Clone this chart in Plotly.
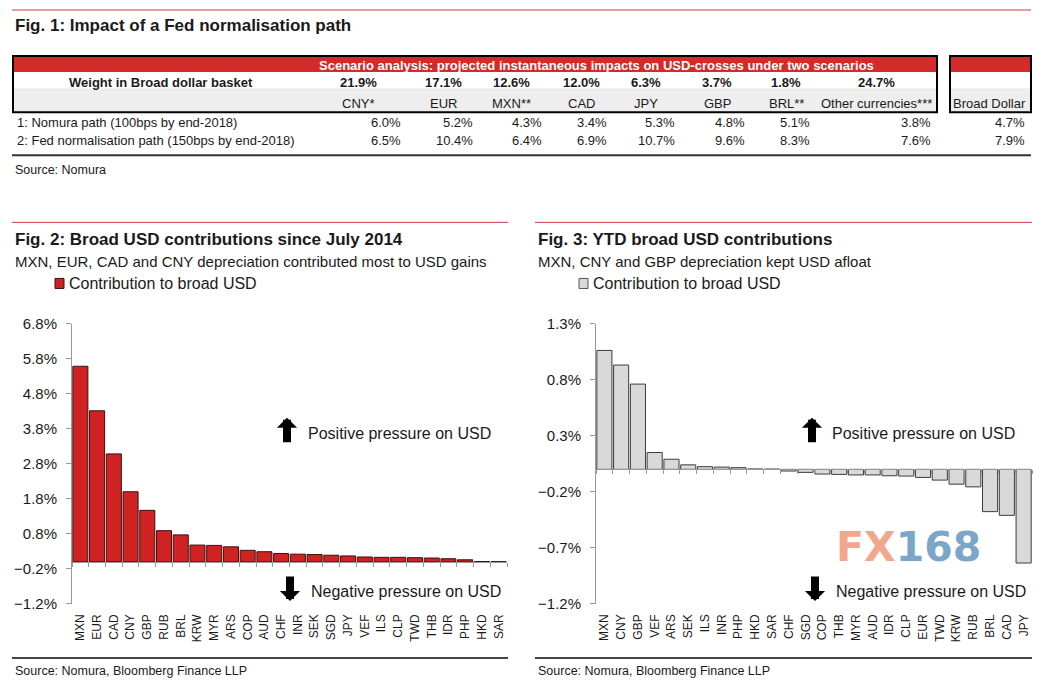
import plotly.graph_objects as go

W, H = 1043, 696
# the photographed page comes out slightly squeezed vertically; these undo it
SQUEEZE, SHIFT = 0.974, 9.0

# Fig. 1 table data
table_currencies = ["CNY*", "EUR", "MXN**", "CAD", "JPY", "GBP", "BRL**", "Other currencies***"]
basket_weights = [21.9, 17.1, 12.6, 12.0, 6.3, 3.7, 1.8, 24.7]
nomura_path = [6.0, 5.2, 4.3, 3.4, 5.3, 4.8, 5.1, 3.8]
fed_path = [6.5, 10.4, 6.4, 6.9, 10.7, 9.6, 8.3, 7.6]
scenario_labels = ["1: Nomura path (100bps by end-2018)",
                   "2: Fed normalisation path (150bps by end-2018)"]
broad_dollar = [4.7, 7.9]

# Fig. 2 data: contributions since July 2014 (%)
since2014_ccy = ["MXN", "EUR", "CAD", "CNY", "GBP", "RUB", "BRL", "KRW", "MYR", "ARS",
                 "COP", "AUD", "CHF", "INR", "SEK", "SGD", "JPY", "VEF", "ILS", "CLP",
                 "TWD", "THB", "IDR", "PHP", "HKD", "SAR"]
since2014_val = [5.58, 4.31, 3.08, 2.00, 1.47, 0.89, 0.77, 0.48, 0.47, 0.43,
                 0.33, 0.29, 0.24, 0.22, 0.21, 0.19, 0.17, 0.14, 0.13, 0.13,
                 0.12, 0.11, 0.09, 0.06, 0.01, 0.005]

# Fig. 3 data: YTD contributions (%)
ytd_ccy = ["MXN", "CNY", "GBP", "VEF", "ARS", "SEK", "ILS", "INR", "PHP", "HKD",
           "SAR", "CHF", "SGD", "COP", "THB", "MYR", "AUD", "IDR", "CLP", "EUR",
           "TWD", "KRW", "RUB", "BRL", "CAD", "JPY"]
ytd_val = [1.06, 0.93, 0.76, 0.15, 0.09, 0.04, 0.024, 0.02, 0.015, 0.003,
           0.002, -0.015, -0.027, -0.042, -0.045, -0.05, -0.05, -0.057, -0.06, -0.072,
           -0.096, -0.132, -0.156, -0.377, -0.41, -0.835]

RED = "#d02222"
GREY_BAR = "#d9d9d9"
DARK = "#1a1a1a"
FONT = "Liberation Sans, Arial, sans-serif"


# positions below are given in pixels of the picture and mapped to paper coordinates
def X(p):
    return p / W


def Y(p):
    return 1 - ((p - SHIFT) / SQUEEZE) / H


fig = go.Figure()

fig.add_trace(go.Bar(x=since2014_ccy, y=since2014_val, name="Contribution to broad USD",
                     marker=dict(color=RED, line=dict(color="#3a1010", width=1)),
                     xaxis="x", yaxis="y"))
fig.add_trace(go.Bar(x=ytd_ccy, y=ytd_val, name="Contribution to broad USD",
                     marker=dict(color=GREY_BAR, line=dict(color="#3c3c3c", width=1)),
                     xaxis="x2", yaxis="y2"))
# invisible copies so the zero-line axes get category ticks
fig.add_trace(go.Scatter(x=since2014_ccy, y=since2014_val, mode="markers", marker=dict(opacity=0),
                         hoverinfo="skip", xaxis="x3", yaxis="y"))
fig.add_trace(go.Scatter(x=ytd_ccy, y=ytd_val, mode="markers", marker=dict(opacity=0),
                         hoverinfo="skip", xaxis="x4", yaxis="y2"))

y2_range = [-1.2, 6.8]
y3_range = [-1.2, 1.3]
ydom = [Y(603), Y(323)]


def zero_pos(r):
    return ydom[0] + (0 - r[0]) / (r[1] - r[0]) * (ydom[1] - ydom[0])


cat_axis = dict(type="category", showgrid=False, showline=False, ticks="", tickangle=-90,
                ticklabelstandoff=7, tickfont=dict(size=12, color=DARK), fixedrange=True)
val_axis = dict(showgrid=False, zeroline=False, showline=True, linecolor="#999", linewidth=1,
                ticks="outside", ticklen=5, tickcolor="#999", ticksuffix="%", tickformat=".1f",
                tickfont=dict(size=15, color=DARK), ticklabelstandoff=6, domain=ydom)
zero_axis = dict(type="category", showgrid=False, showline=True, linecolor="#999", linewidth=1,
                 ticks="outside", ticklen=4, tickcolor="#999", tickson="boundaries",
                 showticklabels=False, anchor="free", side="bottom")

fig.update_layout(
    width=W, height=H, autosize=False,
    margin=dict(l=0, r=0, t=0, b=0),
    paper_bgcolor="white", plot_bgcolor="white",
    font=dict(family=FONT, color=DARK),
    showlegend=False,
    bargap=0.1,
    xaxis=dict(cat_axis, domain=[X(72), X(507)], anchor="y", range=[-0.5, len(since2014_ccy) - 0.5]),
    yaxis=dict(val_axis, anchor="x", range=y2_range, tick0=-1.2, dtick=1),
    xaxis2=dict(cat_axis, domain=[X(596), X(1032)], anchor="y2", range=[-0.5, len(ytd_ccy) - 0.5]),
    yaxis2=dict(val_axis, anchor="x2", range=y3_range, tick0=-1.2, dtick=0.5),
    xaxis3=dict(zero_axis, overlaying="x", domain=[X(72), X(507)], position=zero_pos(y2_range),
                range=[-0.5, len(since2014_ccy) - 0.5]),
    xaxis4=dict(zero_axis, overlaying="x2", domain=[X(596), X(1032)], position=zero_pos(y3_range),
                range=[-0.5, len(ytd_ccy) - 0.5]),
)

shapes = []
ann = []


def text(x, y, s, size=13, bold=False, color=DARK, xanchor="left", **kw):
    if bold:
        s = "<b>" + s + "</b>"
    ann.append(dict(x=X(x), y=Y(y), xref="paper", yref="paper", text=s, showarrow=False,
                    xanchor=xanchor, yanchor="middle", font=dict(size=size, color=color), **kw))


def hline(x0, x1, y, color, width):
    shapes.append(dict(type="line", xref="paper", yref="paper", x0=X(x0), x1=X(x1),
                       y0=Y(y), y1=Y(y), line=dict(color=color, width=width)))


def rect(x0, y0, x1, y1, fill, line_color=None, width=0, layer="below"):
    shapes.append(dict(type="rect", xref="paper", yref="paper", x0=X(x0), x1=X(x1),
                       y0=Y(y1), y1=Y(y0), fillcolor=fill,
                       line=dict(color=line_color or fill, width=width), layer=layer))


# --- Fig. 1 table ---
hline(12, 1031, 10, "#c83c3c", 1)
text(13, 25, "Fig. 1: Impact of a Fed normalisation path", size=17, bold=True)

for x0, x1 in [(13, 937), (950, 1031)]:
    rect(x0, 88, x1, 112, "#eeeeee")
    rect(x0, 56, x1, 72, "#d32a2a")
    shapes.append(dict(type="rect", xref="paper", yref="paper", x0=X(x0), x1=X(x1),
                       y0=Y(112), y1=Y(56), line=dict(color="black", width=2)))

text(596, 65, "Scenario analysis: projected instantaneous impacts on USD-crosses under two scenarios",
     size=13, bold=True, color="white", xanchor="center")
text(161, 82, "Weight in Broad dollar basket", size=13, bold=True, xanchor="center")

col_center = [358, 443, 511, 581, 646, 717, 786, 876]
col_right = [403, 475, 544, 609, 677, 747, 812, 933]
for i, ccy in enumerate(table_currencies):
    text(col_center[i], 82, f"{basket_weights[i]:.1f}%", size=13, bold=True, xanchor="center")
    text(col_center[i], 103, ccy, size=13, xanchor="center")
    text(col_right[i], 122, f"{nomura_path[i]:.1f}%", size=13, xanchor="right")
    text(col_right[i], 140, f"{fed_path[i]:.1f}%", size=13, xanchor="right")
text(989, 103, "Broad Dollar", size=13, xanchor="center")
for j, lbl in enumerate(scenario_labels):
    text(15, 122 + 18 * j, lbl, size=13)
    text(1027, 122 + 18 * j, f"{broad_dollar[j]:.1f}%", size=13, xanchor="right")

hline(12, 1031, 155, "#333333", 2)
text(13, 170, "Source: Nomura", size=12.5)

# --- Fig. 2 / Fig. 3 headers ---
for x0, x1 in [(12, 508), (535, 1032)]:
    hline(x0, x1, 222, "#c83c3c", 1)
    hline(x0, x1, 657, "#444444", 2)
    text(x0 + 1, 670, "Source: Nomura, Bloomberg Finance LLP", size=12.5)

text(13, 239, "Fig. 2: Broad USD contributions since July 2014", size=17, bold=True)
text(13, 261, "MXN, EUR, CAD and CNY depreciation contributed most to USD gains", size=15)
text(536, 239, "Fig. 3: YTD broad USD contributions", size=17, bold=True)
text(536, 261, "MXN, CNY and GBP depreciation kept USD afloat", size=15)

# legend swatches
for sx, fill, edge in [(55, RED, "#3a1010"), (579, GREY_BAR, "#555555")]:
    rect(sx, 278, sx + 9, 288, fill, edge, 1, layer="above")
    text(sx + 12, 283, "Contribution to broad USD", size=16)

# pressure arrows and labels
for ax_x, tx in [(287, 306), (812, 830)]:
    ann.append(dict(x=X(ax_x), y=Y(417), xref="paper", yref="paper", ax=0, ay=26, text="",
                    showarrow=True, arrowhead=1, arrowsize=0.42, arrowwidth=8, arrowcolor="black"))
    text(tx, 433, "Positive pressure on USD", size=16)
for ax_x, tx in [(290, 309), (815, 834)]:
    ann.append(dict(x=X(ax_x), y=Y(600), xref="paper", yref="paper", ax=0, ay=-26, text="",
                    showarrow=True, arrowhead=1, arrowsize=0.42, arrowwidth=8, arrowcolor="black"))
    text(tx, 591, "Negative pressure on USD", size=16)

# watermark
ann.append(dict(x=X(834), y=Y(546), xref="paper", yref="paper", showarrow=False,
                xanchor="left", yanchor="middle",
                text="<b><span style='color:#f2a68c'>FX</span><span style='color:#7ba6c8'>168</span></b>",
                font=dict(family="DejaVu Sans", size=41)))

fig.update_layout(shapes=shapes, annotations=ann)

# pin the figure to the page corner so it fills the window exactly
pin = ("document.body.style.margin='0';document.body.style.overflow='hidden';"
       "var gd=document.getElementById('{plot_id}');"
       "gd.style.position='fixed';gd.style.left='0px';gd.style.top='0px';")
fig.write_html("out.html", post_script=pin, config={"displayModeBar": False})
